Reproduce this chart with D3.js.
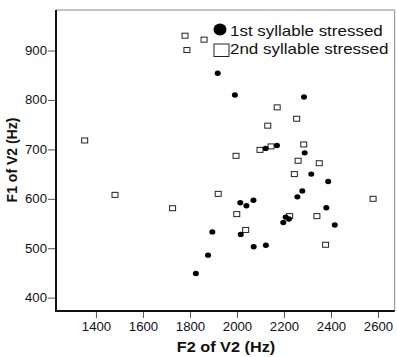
<!DOCTYPE html>
<html>
<head>
<meta charset="utf-8">
<script src="https://cdn.jsdelivr.net/npm/d3@7"></script>
<style>
  body { margin: 0; background: #fff; }
  svg { display: block; font-family: "Liberation Sans", Arial, sans-serif; }
</style>
</head>
<body>
<svg id="chart" width="397" height="357"></svg>
<script>
// 1st syllable stressed (filled circles): F2, F1
var firstF2 = [1918, 1991, 2285, 2122, 2170, 2288, 2316, 2388, 2278, 2257, 2380, 2207,
               2221, 2197, 2416, 2014, 2040, 2070, 2016, 1895, 2071, 2123, 1877, 1825];
var firstF1 = [854, 810, 806, 702, 708, 693, 650, 635, 616, 604, 582, 563,
               559, 552, 547, 592, 586, 597, 528, 533, 503, 506, 486, 449];
// 2nd syllable stressed (open squares)
var secondF2 = [1352, 1481, 1726, 1779, 1787, 1860, 2171, 2131, 2254, 2098, 2145, 1996,
                2284, 2260, 2350, 2244, 2579, 2340, 2224, 2377, 1920, 1999, 2037];
var secondF1 = [718, 608, 581, 930, 901, 922, 785, 748, 762, 699, 706, 687,
                710, 677, 672, 650, 600, 565, 565, 507, 610, 569, 537];

var xTicks = [1400, 1600, 1800, 2000, 2200, 2400, 2600];
var yTicks = [400, 500, 600, 700, 800, 900];
var legendLabels = ["1st syllable stressed", "2nd syllable stressed"];

var svg = d3.select("#chart");
var plotLeft = 56, plotRight = 394.7, plotTop = 10, plotBottom = 311;

var x = d3.scaleLinear().domain([1230, 2671]).range([plotLeft, plotRight]);
var y = d3.scaleLinear().domain([373, 982]).range([plotBottom, plotTop]);

// stretch text horizontally a little, like the source image
function widen(sel, k) {
  sel.each(function () {
    var w = this.getComputedTextLength();
    d3.select(this).attr("textLength", w * k).attr("lengthAdjust", "spacingAndGlyphs");
  });
}

// frame (top and right)
svg.append("path")
  .attr("d", "M" + plotLeft + "," + plotTop + "H" + plotRight + "V" + plotBottom)
  .attr("fill", "none").attr("stroke", "#888").attr("stroke-width", 1);

var xAxis = svg.append("g")
  .attr("transform", "translate(0," + plotBottom + ")")
  .call(d3.axisBottom(x).tickValues(xTicks).tickFormat(d3.format("d"))
    .tickSize(7).tickPadding(4).tickSizeOuter(0));
var yAxis = svg.append("g")
  .attr("transform", "translate(" + plotLeft + ",0)")
  .call(d3.axisLeft(y).tickValues(yTicks).tickFormat(d3.format("d"))
    .tickSize(8).tickPadding(1).tickSizeOuter(0));

[xAxis, yAxis].forEach(function (g) {
  g.select(".domain").remove();
  g.selectAll(".tick line").attr("stroke", "#555");
  g.selectAll(".tick text").attr("font-size", 12).attr("fill", "#111")
    .attr("font-family", "Liberation Sans, Arial, sans-serif");
  widen(g.selectAll(".tick text"), 1.1);
});

// axis lines
svg.append("line").attr("x1", plotLeft).attr("x2", plotRight)
  .attr("y1", plotBottom).attr("y2", plotBottom)
  .attr("stroke", "#111").attr("stroke-width", 2);
svg.append("line").attr("x1", plotLeft).attr("x2", plotLeft)
  .attr("y1", plotTop).attr("y2", plotBottom + 1)
  .attr("stroke", "#111").attr("stroke-width", 2);

// squares
svg.append("g").selectAll("rect")
  .data(secondF2)
  .enter().append("rect")
  .attr("x", function (d) { return x(d) - 3; })
  .attr("y", function (d, i) { return y(secondF1[i]) - 2.5; })
  .attr("width", 6).attr("height", 5)
  .attr("fill", "none").attr("stroke", "#222").attr("stroke-width", 1);

// circles
svg.append("g").selectAll("ellipse")
  .data(firstF2)
  .enter().append("ellipse")
  .attr("cx", function (d) { return x(d); })
  .attr("cy", function (d, i) { return y(firstF1[i]); })
  .attr("rx", 3).attr("ry", 2.7)
  .attr("fill", "#000");

// legend
svg.append("ellipse").attr("cx", 220).attr("cy", 29.5).attr("rx", 6.5).attr("ry", 6).attr("fill", "#000");
svg.append("rect").attr("x", 214).attr("y", 44).attr("width", 15).attr("height", 12.5)
  .attr("fill", "none").attr("stroke", "#222").attr("stroke-width", 1);
var leg = svg.append("g").selectAll("text")
  .data(legendLabels)
  .enter().append("text")
  .attr("x", 230)
  .attr("y", function (d, i) { return 36 + i * 17.5; })
  .attr("font-size", 14.5)
  .attr("fill", "#111")
  .text(function (d) { return d; });
widen(leg, 1.17);

// axis titles
var xt = svg.append("text")
  .attr("x", 226).attr("y", 352)
  .attr("text-anchor", "middle")
  .attr("font-size", 14).attr("font-weight", "bold").attr("fill", "#111")
  .text("F2 of V2 (Hz)");
widen(xt, 1.16);

svg.append("text")
  .attr("transform", "translate(16.7,160) rotate(-90)")
  .attr("text-anchor", "middle")
  .attr("font-size", 14).attr("font-weight", "bold").attr("fill", "#111")
  .text("F1 of V2 (Hz)");
</script>
</body>
</html>
